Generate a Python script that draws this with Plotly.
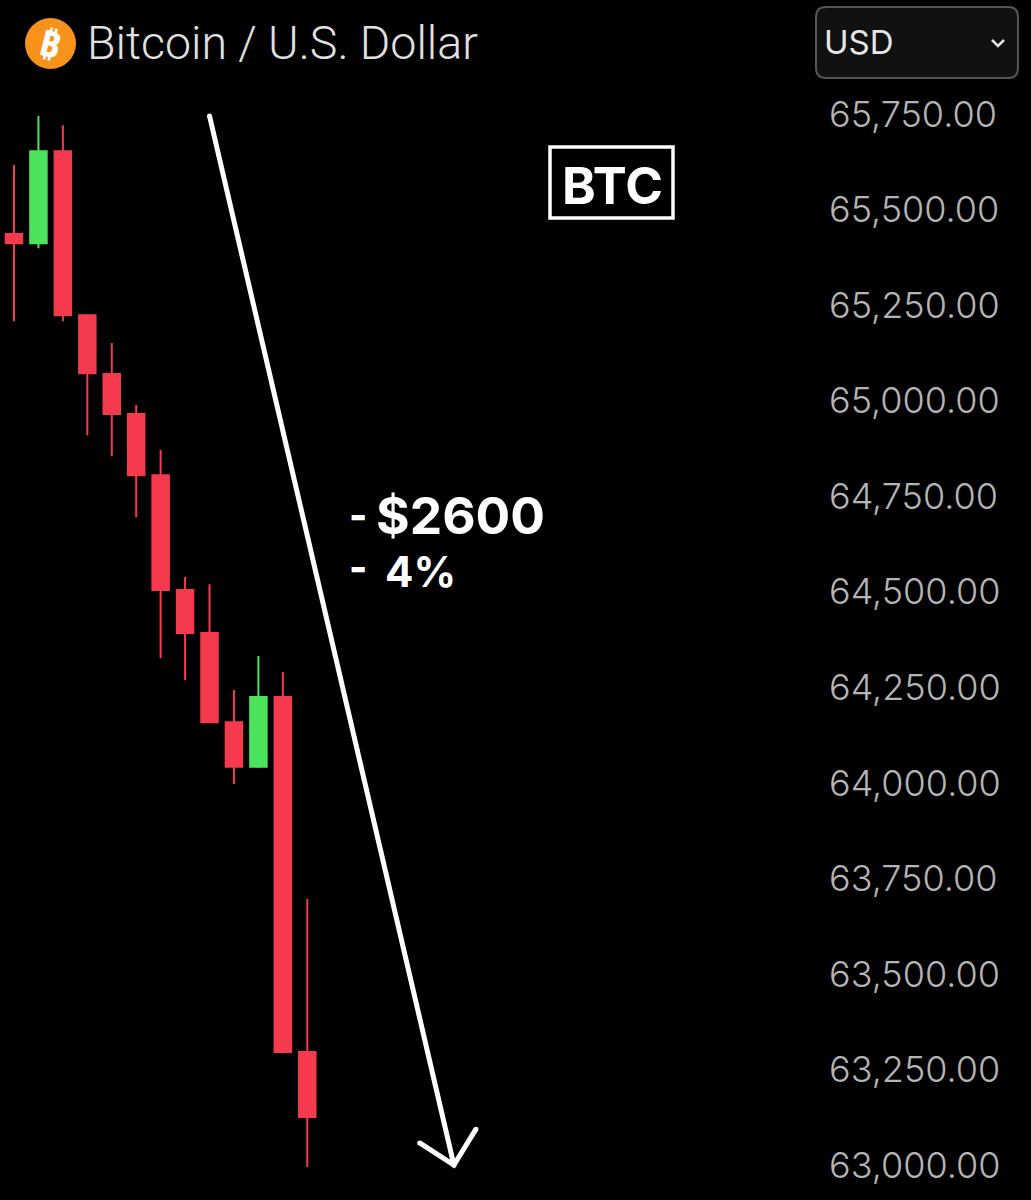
import plotly.graph_objects as go

# candles
candle_x = list(range(13))
opens = [65436, 65412, 65653, 65224, 65070, 64965, 64805, 64505, 64392, 64159, 64042, 64225, 63296]
highs = [65617, 65745, 65721, 65227, 65151, 64989, 64871, 64539, 64520, 64243, 64332, 64290, 63696]
lows = [65208, 65399, 65208, 64910, 64855, 64696, 64327, 64269, 64159, 63997, 64039, 63296, 62995]
closes = [65412, 65653, 65224, 65072, 64965, 64805, 64505, 64392, 64159, 64042, 64225, 63296, 63126]

price_ticks = [65750, 65500, 65250, 65000, 64750, 64500, 64250, 64000, 63750, 63500, 63250, 63000]

# arrow, in the chart's own units
arrow_x = [8.0, 18.0]
arrow_y = [65745, 63000]
head_x = [16.6, 18.0, 18.9]
head_y = [63058, 63000, 63094]

UP = "#4be35b"
DOWN = "#f43a4c"
W, H = 1031, 1200
PLOT_W = 828


def px(x):
    return x / PLOT_W


def py(y):
    return 1 - y / H


def label(text, x, y, size, color="#ffffff", weight=400, family="Inter", anchor="left", angle=0):
    return dict(
        text=text, x=px(x), y=py(y), xref="paper", yref="paper", showarrow=False,
        xanchor=anchor, yanchor="middle", textangle=angle,
        font=dict(size=size, color=color, family=family, weight=weight),
    )


def rounded_box(x0, y0, x1, y1, r):
    pts = [
        ("M", x0 + r, y0), ("L", x1 - r, y0), ("Q", x1, y0, x1, y0 + r), ("L", x1, y1 - r),
        ("Q", x1, y1, x1 - r, y1), ("L", x0 + r, y1), ("Q", x0, y1, x0, y1 - r),
        ("L", x0, y0 + r), ("Q", x0, y0, x0 + r, y0),
    ]
    out = ""
    for p in pts:
        vals = p[1:]
        coords = [f"{px(vals[i])},{py(vals[i + 1])}" for i in range(0, len(vals), 2)]
        out += p[0] + " " + " ".join(coords) + " "
    return out + "Z"


fig = go.Figure()
fig.add_trace(go.Candlestick(
    x=candle_x, open=opens, high=highs, low=lows, close=closes,
    increasing=dict(line=dict(color=UP, width=2), fillcolor=UP),
    decreasing=dict(line=dict(color=DOWN, width=2), fillcolor=DOWN),
    whiskerwidth=0, hoverinfo="skip",
))
fig.add_trace(go.Scatter(
    x=arrow_x, y=arrow_y, mode="lines+markers", hoverinfo="skip",
    line=dict(color="white", width=5), marker=dict(color="white", size=5),
))
fig.add_trace(go.Scatter(
    x=head_x, y=head_y, mode="lines+markers", hoverinfo="skip",
    line=dict(color="white", width=5), marker=dict(color="white", size=5),
))

step = 24.44
first = 14

shapes = [
    dict(type="circle", xref="paper", yref="paper", x0=px(25), x1=px(76), y0=py(18), y1=py(69),
         fillcolor="#f7931a", line=dict(width=0)),
    dict(type="path", xref="paper", yref="paper", path=rounded_box(816, 7, 1018, 78, 10),
         fillcolor="#111111", line=dict(color="#555555", width=2)),
    dict(type="path", xref="paper", yref="paper",
         path=f"M {px(992)},{py(40)} L {px(998)},{py(46)} L {px(1004)},{py(40)}",
         line=dict(color="#e6e6e6", width=2.5)),
    dict(type="rect", xref="paper", yref="paper", x0=px(550), x1=px(673), y0=py(147), y1=py(218),
         fillcolor="rgba(0,0,0,0)", line=dict(color="white", width=3.5)),
]

annotations = [
    label("₿", 50.5, 43, 36, weight=700, family="Noto Sans", anchor="center", angle=14),
    label("Bitcoin / U.S. Dollar", 85, 43, 46.5, color="#e0e0e0", weight=300, family="Roboto"),
    label("USD", 822, 42, 33, color="#e6e6e6", family="Inter"),
    label("BTC", 612, 185, 51, weight=700, anchor="center"),
    label("-", 347, 514, 39, weight=800),
    label("$2600", 374, 515, 51.5, weight=700),
    label("-", 347, 566, 39, weight=800),
    label("4%", 383, 571, 42, weight=700),
]

fig.update_layout(
    width=W, height=H, paper_bgcolor="black", plot_bgcolor="black",
    margin=dict(l=0, r=W - PLOT_W, t=0, b=0), showlegend=False, boxgap=0.325, boxgroupgap=0,
    shapes=shapes, annotations=annotations,
    xaxis=dict(visible=False, rangeslider=dict(visible=False),
               range=[-first / step, (PLOT_W - first) / step]),
    yaxis=dict(side="right", range=[62908.6, 66048.6], tickvals=price_ticks, tickformat=",.2f",
               showgrid=False, zeroline=False, showline=False, ticks="",
               tickfont=dict(size=36, color="#b4b4b4", family="Inter", weight=300)),
)

fig.write_html("out.html", config=dict(displayModeBar=False),
               post_script="document.body.style.margin='0';")
